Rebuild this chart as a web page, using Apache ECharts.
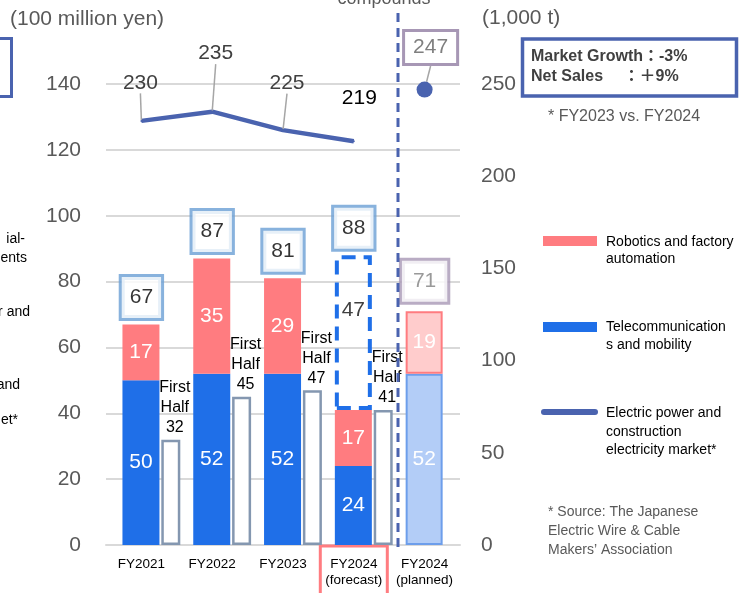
<!DOCTYPE html>
<html>
<head>
<meta charset="utf-8">
<script src="https://cdn.jsdelivr.net/npm/echarts@6/dist/echarts.min.js"></script>
<style>
  html, body { margin: 0; padding: 0; background: #ffffff; }
  #chart { width: 745px; height: 593px; }
</style>
</head>
<body>
<div id="chart"></div>
<script>
// ---- data ----
const categories = ['FY2021', 'FY2022', 'FY2023', 'FY2024\n(forecast)', 'FY2024\n(planned)'];
const telecom = [50, 52, 52, 24, 52];            // Telecommunications and mobility (100 million yen)
const robotics = [17, 35, 29, 17, 19];           // Robotics and factory automation (100 million yen)
const outlookRemainder = [null, null, null, 47, null]; // remaining full-year outlook on top of FY2024 actuals
const firstHalf = [32, 45, 47, 41, null];        // first-half net sales (100 million yen)
const marketVolume = [230, 235, 225, 219, null]; // electric power & construction market (1,000 t)
const plannedMarket = [null, null, null, null, 247];
const leftTicks = [0, 20, 40, 60, 80, 100, 120, 140];
const rightTicks = [0, 50, 100, 150, 200, 250];

const FORECAST = 3;
const PLANNED = 4;

// totals shown in the boxes above each stacked bar
const totals = telecom.map((v, i) => v + robotics[i] + (outlookRemainder[i] || 0));

// ---- styling ----
const FONT = '"Liberation Sans", Arial, "Noto Sans CJK JP", sans-serif';
const RED = '#FF7C80';
const BLUE = '#1F6FE8';
const NAVY = '#4A63AF';
const GRID = '#D9D9D9';
const AXIS_TEXT = '#595959';
const LEADER = { color: '#A6A6A6', width: 1.5 };

// label offsets for the market line (dx, dy from each point)
const lineLabelShift = [[-1, -38], [3.5, -58], [4, -47], [5.5, -43]];
const plannedLabelShift = [6, -42];

const chart = echarts.init(document.getElementById('chart'), null, { renderer: 'canvas' });

const option = {
  animation: false,
  backgroundColor: '#ffffff',
  textStyle: { fontFamily: FONT },
  grid: { left: 106, right: 285, top: 84, bottom: 48, containLabel: false, outerBoundsMode: 'none' },
  xAxis: {
    type: 'category',
    data: categories.map((c, i) => i === FORECAST
      ? { value: c, textStyle: { borderColor: RED, borderWidth: 3 } }
      : c),
    axisLine: { show: true, lineStyle: { color: GRID, width: 2 } },
    axisTick: { show: false },
    axisLabel: {
      margin: 1, fontSize: 13.5, color: '#000', lineHeight: 16,
      padding: [10, 5, 14, 5], interval: 0
    }
  },
  yAxis: [
    {
      type: 'value', position: 'left',
      min: leftTicks[0], max: leftTicks[leftTicks.length - 1], interval: leftTicks[1] - leftTicks[0],
      axisLine: { show: false }, axisTick: { show: false },
      axisLabel: { fontSize: 21, color: AXIS_TEXT, margin: 25 },
      splitLine: { show: true, lineStyle: { color: GRID, width: 2 } }
    },
    {
      type: 'value', position: 'right',
      min: rightTicks[0], max: rightTicks[rightTicks.length - 1], interval: rightTicks[1] - rightTicks[0],
      axisLine: { show: false }, axisTick: { show: false },
      axisLabel: { fontSize: 21, color: AXIS_TEXT, margin: 21 },
      splitLine: { show: false }
    }
  ],
  series: [
    // empty slot on the left keeps the stacked bar centred on its category
    {
      name: 'slot', type: 'bar', silent: true, barWidth: 19, barGap: '5%',
      data: categories.map(() => '-')
    },
    {
      name: 'Telecommunications and mobility', type: 'bar', stack: 'sales', barWidth: 37, barGap: '5%',
      itemStyle: { color: BLUE },
      label: { show: true, position: 'inside', color: '#fff', fontSize: 21 },
      data: telecom.map((v, i) => i === PLANNED
        ? { value: v, itemStyle: { color: '#B3CDF7', borderColor: '#6D9EEB', borderWidth: 2 } }
        : v)
    },
    {
      name: 'Robotics and factory automation', type: 'bar', stack: 'sales', barWidth: 37, barGap: '5%',
      itemStyle: { color: RED },
      label: { show: true, position: 'inside', color: '#fff', fontSize: 21 },
      data: robotics.map((v, i) => i === PLANNED
        ? { value: v, itemStyle: { color: '#FFCCCC', borderColor: RED, borderWidth: 2 } }
        : v)
    },
    {
      name: 'Outlook', type: 'bar', stack: 'sales', barWidth: 37, barGap: '5%',
      itemStyle: { color: 'rgba(0,0,0,0)', borderColor: BLUE, borderWidth: 4, borderType: [14, 8] },
      label: { show: true, position: 'inside', offset: [0, -22], color: '#404040', fontSize: 21 },
      data: outlookRemainder.map(v => v === null ? '-' : v)
    },
    {
      name: 'First Half', type: 'bar', barWidth: 19, barGap: '5%',
      itemStyle: { color: '#ffffff', borderColor: '#8497B0', borderWidth: 2.5 },
      label: {
        show: true, position: 'top', distance: 2, offset: [4, 0],
        color: '#000', fontSize: 16, lineHeight: 20, align: 'center',
        formatter: p => 'First\nHalf\n' + p.value
      },
      data: firstHalf.map(v => v === null ? '-' : v)
    },
    // boxed totals above the stacks
    {
      name: 'Total', type: 'scatter', yAxisIndex: 0, symbolSize: 1, silent: true, z: 5,
      itemStyle: { color: 'rgba(0,0,0,0)' },
      label: {
        show: true, position: 'top', distance: 6,
        formatter: p => String(totals[p.dataIndex]),
        fontSize: 21, lineHeight: 23, color: '#000', backgroundColor: '#fff',
        borderColor: '#6A9FD4', borderWidth: 3, padding: [9, 8, 9, 8]
      },
      data: totals.map((v, i) => i === PLANNED
        ? { value: v, label: { color: '#7F7F7F', borderColor: '#A797B5', padding: [9, 11, 9, 11], distance: 9 } }
        : v)
    },
    {
      name: 'Electric power and construction electricity market', type: 'line', yAxisIndex: 1, z: 4,
      lineStyle: { color: NAVY, width: 4.5 },
      itemStyle: { color: NAVY },
      symbol: 'circle', symbolSize: 2, showSymbol: true,
      label: { show: true, position: 'inside', fontSize: 21, color: '#404040' },
      labelLine: { show: true, lineStyle: LEADER },
      labelLayout: p => ({ dx: lineLabelShift[p.dataIndex][0], dy: lineLabelShift[p.dataIndex][1] }),
      data: marketVolume.map((v, i) => {
        if (v === null) return '-';
        if (i === FORECAST) return { value: v, label: { color: '#000' }, labelLine: { show: false } };
        return v;
      })
    },
    {
      name: 'Planned market', type: 'scatter', yAxisIndex: 1, z: 6,
      symbolSize: 16, itemStyle: { color: NAVY, opacity: 1 },
      label: {
        show: true, position: 'inside', fontSize: 21, lineHeight: 23, color: '#7F7F7F',
        backgroundColor: '#fff', borderColor: '#A797B5', borderWidth: 3, padding: [4, 8, 4, 8]
      },
      labelLine: { show: true, lineStyle: LEADER },
      labelLayout: () => ({ dx: plannedLabelShift[0], dy: plannedLabelShift[1] }),
      data: plannedMarket.map(v => v === null ? '-' : v)
    }
  ],
  graphic: [
    // axis units
    { type: 'text', style: { text: '(100 million yen)', x: 10, y: 19, font: '21px ' + FONT, fill: AXIS_TEXT, align: 'left', textAlign: 'left', verticalAlign: 'middle', textVerticalAlign: 'middle' } },
    { type: 'text', style: { text: '(1,000 t)', x: 482, y: 18, font: '21px ' + FONT, fill: AXIS_TEXT, align: 'left', textAlign: 'left', verticalAlign: 'middle', textVerticalAlign: 'middle' } },
    { type: 'text', style: { text: 'compounds', x: 384, y: 8, font: '18px ' + FONT, fill: AXIS_TEXT, align: 'center', textAlign: 'center', verticalAlign: 'bottom', textVerticalAlign: 'bottom' } },
    // divider between forecast and plan
    { type: 'line', z: 10, shape: { x1: 398, y1: 13, x2: 398, y2: 552 }, style: { stroke: NAVY, lineWidth: 3, lineDash: [9, 6] } },
    // growth summary box
    { type: 'rect', shape: { x: 522.5, y: 39, width: 214, height: 57 }, style: { fill: '#fff', stroke: NAVY, lineWidth: 3.5 } },
    { type: 'text', style: { text: 'Market Growth：-3%\nNet Sales　 ：＋9%', x: 531, y: 47, font: 'bold 16px ' + FONT, lineHeight: 20, fill: '#404040', align: 'left', textAlign: 'left', verticalAlign: 'top', textVerticalAlign: 'top' } },
    { type: 'text', style: { text: '* FY2023 vs. FY2024', x: 548, y: 117, font: '16px ' + FONT, fill: AXIS_TEXT, align: 'left', textAlign: 'left', verticalAlign: 'middle', textVerticalAlign: 'middle' } },
    // neighbouring panel edge on the left
    { type: 'rect', shape: { x: -20, y: 38.5, width: 31.5, height: 58 }, style: { fill: 'none', stroke: NAVY, lineWidth: 3 } },
    { type: 'text', style: { text: 'ial-', x: 25, y: 239, font: '14px ' + FONT, fill: '#000', align: 'right', textAlign: 'right', verticalAlign: 'middle', textVerticalAlign: 'middle' } },
    { type: 'text', style: { text: 'ents', x: 27, y: 258, font: '14px ' + FONT, fill: '#000', align: 'right', textAlign: 'right', verticalAlign: 'middle', textVerticalAlign: 'middle' } },
    { type: 'text', style: { text: 'r and', x: 30, y: 312, font: '14px ' + FONT, fill: '#000', align: 'right', textAlign: 'right', verticalAlign: 'middle', textVerticalAlign: 'middle' } },
    { type: 'text', style: { text: 'and', x: 20, y: 385, font: '14px ' + FONT, fill: '#000', align: 'right', textAlign: 'right', verticalAlign: 'middle', textVerticalAlign: 'middle' } },
    { type: 'text', style: { text: 'et*', x: 18, y: 420, font: '14px ' + FONT, fill: '#000', align: 'right', textAlign: 'right', verticalAlign: 'middle', textVerticalAlign: 'middle' } },
    // legend
    { type: 'rect', shape: { x: 543, y: 236, width: 54, height: 10 }, style: { fill: RED } },
    { type: 'text', style: { text: 'Robotics and factory\nautomation', x: 606, y: 233, font: '14px ' + FONT, lineHeight: 17.5, fill: '#000', align: 'left', textAlign: 'left', verticalAlign: 'top', textVerticalAlign: 'top' } },
    { type: 'rect', shape: { x: 543, y: 322, width: 54, height: 10 }, style: { fill: BLUE } },
    { type: 'text', style: { text: 'Telecommunication\ns and mobility', x: 606, y: 318, font: '14px ' + FONT, lineHeight: 18, fill: '#000', align: 'left', textAlign: 'left', verticalAlign: 'top', textVerticalAlign: 'top' } },
    { type: 'line', shape: { x1: 544, y1: 412, x2: 595, y2: 412 }, style: { stroke: NAVY, lineWidth: 6, lineCap: 'round' } },
    { type: 'text', style: { text: 'Electric power and\nconstruction\nelectricity market*', x: 606, y: 404, font: '14px ' + FONT, lineHeight: 18.5, fill: '#000', align: 'left', textAlign: 'left', verticalAlign: 'top', textVerticalAlign: 'top' } },
    // source note
    { type: 'text', style: { text: '* Source: The Japanese\nElectric Wire & Cable\nMakers\u2019 Association', x: 548, y: 502.5, font: '14px ' + FONT, lineHeight: 19, fill: AXIS_TEXT, align: 'left', textAlign: 'left', verticalAlign: 'top', textVerticalAlign: 'top' } }
  ]
};

chart.setOption(option);
</script>
</body>
</html>
